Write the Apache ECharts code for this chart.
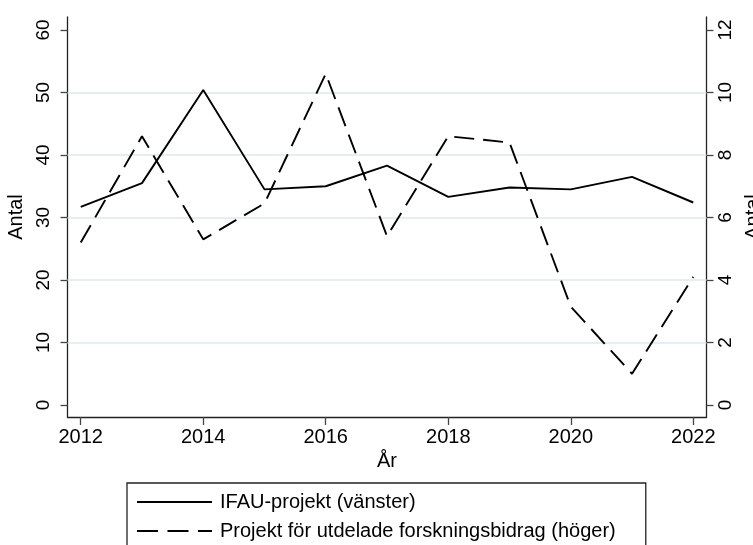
<!DOCTYPE html>
<html>
<head>
<meta charset="utf-8">
<script src="https://cdn.jsdelivr.net/npm/echarts@6/dist/echarts.min.js"></script>
<style>
  html, body { margin: 0; padding: 0; background: #fff; }
  #main { width: 753px; height: 545px; }
</style>
</head>
<body>
<div id="main"></div>
<script>
// data
var years = [2012, 2013, 2014, 2015, 2016, 2017, 2018, 2019, 2020, 2021, 2022];
var ifauProjekt = [31.7, 35.5, 50.4, 34.5, 35.0, 38.3, 33.3, 34.8, 34.5, 36.5, 32.4];
var bidragProjekt = [5.2, 8.6, 5.3, 6.45, 10.6, 5.4, 8.6, 8.4, 3.15, 1.0, 4.1];
var xTicks = [2012, 2014, 2016, 2018, 2020, 2022];
var leftTicks = [0, 10, 20, 30, 40, 50, 60];
var rightTicks = [0, 2, 4, 6, 8, 10, 12];
var gridVals = [10, 20, 30, 40, 50];
var names = ['IFAU-projekt (vänster)', 'Projekt för utdelade forskningsbidrag (höger)'];

window.onload = function () {
    var myChart = echarts.init(document.getElementById('main'), null, { renderer: 'canvas' });
    var font = "'Liberation Sans', Arial, sans-serif";

    function pairs(vals) {
        return years.map(function (y, i) { return [y, vals[i]]; });
    }

    var axisCommon = {
        axisLine: { show: true, onZero: false, lineStyle: { color: '#222', width: 1.3 } },
        splitLine: { show: false },
        nameTextStyle: { fontFamily: font, fontSize: 20, color: '#000' }
    };

    var option = {
        backgroundColor: '#fff',
        animation: false,
        grid: { left: 67.5, right: 46.5, top: 17, bottom: 128, containLabel: false, outerBoundsMode: 'none' },
        legend: {
            data: [
                { name: names[0] },
                { name: names[1], lineStyle: { type: [21, 9.5] } }
            ],
            orient: 'vertical',
            left: 127,
            top: 483,
            height: 150,
            itemWidth: 75,
            itemHeight: 14,
            itemGap: 9,
            padding: [9, 30, 30, 9],
            borderColor: '#222',
            borderWidth: 1.3,
            backgroundColor: '#fff',
            selectedMode: false,
            itemStyle: { color: 'transparent', borderColor: 'transparent', borderWidth: 0, opacity: 0 },
            textStyle: { fontFamily: font, fontSize: 20, color: '#000', lineHeight: 20, padding: [0, 0, 0, 3] }
        },
        xAxis: Object.assign({}, axisCommon, {
            type: 'value',
            min: 2011.784,
            max: 2022.216,
            name: 'År',
            nameLocation: 'middle',
            nameGap: 34,
            axisTick: { show: true, length: 8, customValues: xTicks, lineStyle: { color: '#444', width: 1.3 } },
            axisLabel: {
                customValues: xTicks,
                margin: 10,
                fontFamily: font, fontSize: 20, color: '#000',
                formatter: function (v) { return String(v); }
            }
        }),
        yAxis: [
            Object.assign({}, axisCommon, {
                type: 'value',
                position: 'left',
                min: -1.92,
                max: 62.08,
                name: 'Antal',
                nameLocation: 'middle',
                nameGap: 32,
                axisTick: { show: true, length: 7, customValues: leftTicks, lineStyle: { color: '#444', width: 1.3 } },
                axisLabel: {
                    customValues: leftTicks,
                    rotate: 90,
                    margin: 14,
                    fontFamily: font, fontSize: 19, color: '#000',
                    formatter: function (v) { return String(v); }
                }
            }),
            Object.assign({}, axisCommon, {
                type: 'value',
                position: 'right',
                min: -0.384,
                max: 12.416,
                name: 'Antal',
                nameLocation: 'middle',
                nameGap: 31,
                axisTick: { show: true, length: 7, customValues: rightTicks, lineStyle: { color: '#444', width: 1.3 } },
                axisLabel: {
                    customValues: rightTicks,
                    rotate: 90,
                    margin: 10,
                    fontFamily: font, fontSize: 19, color: '#000',
                    formatter: function (v) { return String(v); }
                }
            })
        ],
        series: [
            {
                name: names[0],
                type: 'line',
                yAxisIndex: 0,
                data: pairs(ifauProjekt),
                symbol: 'none',
                z: 3,
                color: '#000',
                lineStyle: { color: '#000', width: 1.9, type: 'solid' },
                emphasis: { disabled: true },
                markLine: {
                    silent: true,
                    z: 1,
                    symbol: ['none', 'none'],
                    label: { show: false },
                    lineStyle: { color: '#dfe8ec', width: 1.5, type: 'solid' },
                    emphasis: { disabled: true },
                    data: gridVals.map(function (v) { return { yAxis: v }; })
                }
            },
            {
                name: names[1],
                type: 'line',
                yAxisIndex: 1,
                data: pairs(bidragProjekt),
                symbol: 'none',
                z: 3,
                color: '#000',
                lineStyle: { color: '#000', width: 1.9, type: [20, 9] },
                emphasis: { disabled: true }
            }
        ]
    };

    myChart.setOption(option, true);
};
</script>
</body>
</html>
